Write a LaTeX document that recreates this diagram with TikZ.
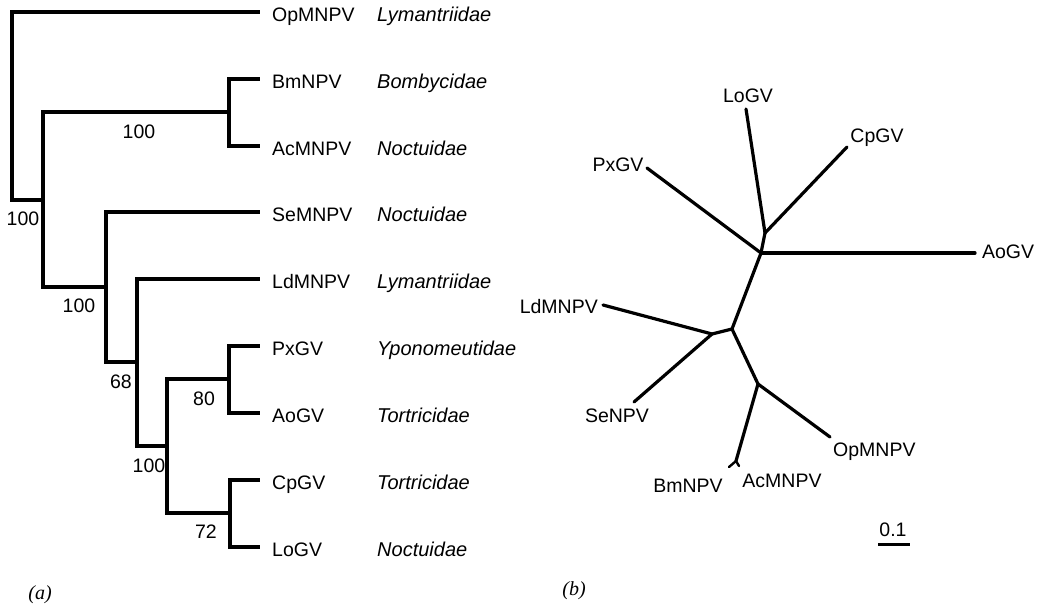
\documentclass[tikz,border=0pt]{standalone}
\usepackage{fontspec}
\setmainfont{Liberation Sans}
\newfontfamily\serifit{Liberation Serif}
\begin{document}
\begin{tikzpicture}[x=1pt,y=-1pt,
  br/.style={line width=3.3pt, line cap=rect, line join=miter},
  ubr/.style={line width=3.2pt, line cap=round, line join=round},
  lab/.style={font=\fontsize{19.5}{22}\selectfont, inner sep=0pt, text height=14pt, text depth=0pt},
  fam/.style={lab, font=\fontsize{20}{22}\selectfont\itshape},
  boot/.style={lab},
  panel/.style={inner sep=0pt, font=\fontsize{20}{22}\selectfont\serifit\itshape}]
\useasboundingbox (0,0) rectangle (1040,607);

% ---------- (a) cladogram ----------
\coordinate (r0t) at (12,12);
\coordinate (r0b) at (12,200);
\coordinate (n1m) at (43,200);
\coordinate (n1t) at (43,112);
\coordinate (n1b) at (43,287);
\coordinate (n2t) at (229,112);
\coordinate (n2a) at (229,79);
\coordinate (n2b) at (229,146);
\coordinate (n3m) at (106,287);
\coordinate (n3t) at (106,212);
\coordinate (n3b) at (106,362);
\coordinate (n4m) at (137,362);
\coordinate (n4t) at (137,279);
\coordinate (n4b) at (137,446);
\coordinate (n5m) at (167,446);
\coordinate (n5t) at (167,379);
\coordinate (n5b) at (167,513);
\coordinate (n6m) at (229,379);
\coordinate (n6a) at (229,346);
\coordinate (n6b) at (229,413);
\coordinate (n7m) at (230,513);
\coordinate (n7a) at (230,480);
\coordinate (n7b) at (230,547);
\coordinate (tOp) at (258,12);
\coordinate (tBm) at (258,79);
\coordinate (tAc) at (258,146);
\coordinate (tSe) at (258,212);
\coordinate (tLd) at (258,279);
\coordinate (tPx) at (258,346);
\coordinate (tAo) at (258,413);
\coordinate (tCp) at (258,480);
\coordinate (tLo) at (258,547);

\draw[br] (tOp) -- (r0t) -- (r0b) -- (n1m);
\draw[br] (n1t) -- (n1b);
\draw[br] (n1t) -- (n2t);
\draw[br] (n2a) -- (n2b);
\draw[br] (n2a) -- (tBm);
\draw[br] (n2b) -- (tAc);
\draw[br] (n1b) -- (n3m);
\draw[br] (n3t) -- (n3b);
\draw[br] (n3t) -- (tSe);
\draw[br] (n3b) -- (n4m);
\draw[br] (n4t) -- (n4b);
\draw[br] (n4t) -- (tLd);
\draw[br] (n4b) -- (n5m);
\draw[br] (n5t) -- (n5b);
\draw[br] (n5t) -- (n6m);
\draw[br] (n6a) -- (n6b);
\draw[br] (n6a) -- (tPx);
\draw[br] (n6b) -- (tAo);
\draw[br] (n5b) -- (n7m);
\draw[br] (n7a) -- (n7b);
\draw[br] (n7a) -- (tCp);
\draw[br] (n7b) -- (tLo);

\node[lab, anchor=west] (lOp) at (272,14.5) {OpMNPV};
\node[lab, anchor=west] (lBm) at (272,81.5) {BmNPV};
\node[lab, anchor=west] (lAc) at (272,148.5) {AcMNPV};
\node[lab, anchor=west] (lSe) at (272,214.5) {SeMNPV};
\node[lab, anchor=west] (lLd) at (272,281.5) {LdMNPV};
\node[lab, anchor=west] (lPx) at (272,348.5) {PxGV};
\node[lab, anchor=west] (lAo) at (272,415.5) {AoGV};
\node[lab, anchor=west] (lCp) at (272,482.5) {CpGV};
\node[lab, anchor=west] (lLo) at (272,549.5) {LoGV};

\node[fam, anchor=west] (fOp) at (377,14.5) {Lymantriidae};
\node[fam, anchor=west] (fBm) at (377,81.5) {Bombycidae};
\node[fam, anchor=west] (fAc) at (377,148.5) {Noctuidae};
\node[fam, anchor=west] (fSe) at (377,214.5) {Noctuidae};
\node[fam, anchor=west] (fLd) at (377,281.5) {Lymantriidae};
\node[fam, anchor=west] (fPx) at (377,348.5) {Yponomeutidae};
\node[fam, anchor=west] (fAo) at (377,415.5) {Tortricidae};
\node[fam, anchor=west] (fCp) at (377,482.5) {Tortricidae};
\node[fam, anchor=west] (fLo) at (377,549.5) {Noctuidae};

\node[boot] (b1) at (23,218) {100};
\node[boot] (b2) at (139,131) {100};
\node[boot] (b3) at (79,305) {100};
\node[boot] (b4) at (121,381) {68};
\node[boot] (b5) at (204,398) {80};
\node[boot] (b6) at (149,465) {100};
\node[boot] (b7) at (206,531) {72};

\node[panel] (pa) at (40,595) {(\textit{a})};

% ---------- (b) unrooted tree ----------
\coordinate (u1) at (765,233);
\coordinate (u2) at (761,253);
\coordinate (u3) at (732,329);
\coordinate (u4) at (712,334);
\coordinate (u5) at (758,384);
\coordinate (u6) at (736,461);
\coordinate (eLo) at (746,109);
\coordinate (eCp) at (847,147);
\coordinate (ePx) at (647,168);
\coordinate (eAo) at (975,253);
\coordinate (eLd) at (603,305);
\coordinate (eSe) at (634,402);
\coordinate (eOp) at (830,437);
\coordinate (eBm) at (729,467);
\coordinate (eAc) at (739,466);

\draw[ubr] (eLo) -- (u1);
\draw[ubr] (eCp) -- (u1);
\draw[ubr] (u1) -- (u2);
\draw[ubr] (ePx) -- (u2);
\draw[ubr] (u2) -- (eAo);
\draw[ubr] (u2) -- (u3);
\draw[ubr] (u3) -- (u4);
\draw[ubr] (eLd) -- (u4);
\draw[ubr] (u4) -- (eSe);
\draw[ubr] (u3) -- (u5);
\draw[ubr] (u5) -- (eOp);
\draw[ubr] (u5) -- (u6);
\draw[line width=2.4pt, line cap=round] (u6) -- (eBm);
\draw[line width=2.4pt, line cap=round] (u6) -- (eAc);

\node[lab] (uLo) at (748,95.5) {LoGV};
\node[lab] (uCp) at (877,135.5) {CpGV};
\node[lab] (uPx) at (618,164.5) {PxGV};
\node[lab] (uAo) at (1008,251.5) {AoGV};
\node[lab, anchor=east] (uLd) at (598,306.5) {LdMNPV};
\node[lab] (uSe) at (617,415) {SeNPV};
\node[lab, anchor=west] (uOp) at (833,449.5) {OpMNPV};
\node[lab] (uBm) at (688,485) {BmNPV};
\node[lab] (uAc) at (782,480) {AcMNPV};

\coordinate (sb1) at (878,544);
\coordinate (sb2) at (910,544);
\draw[line width=3pt] (sb1) -- (sb2);
\node[lab] (sbl) at (893,529) {0.1};

\node[panel] (pb) at (574,591) {(\textit{b})};
\end{tikzpicture}
\end{document}
